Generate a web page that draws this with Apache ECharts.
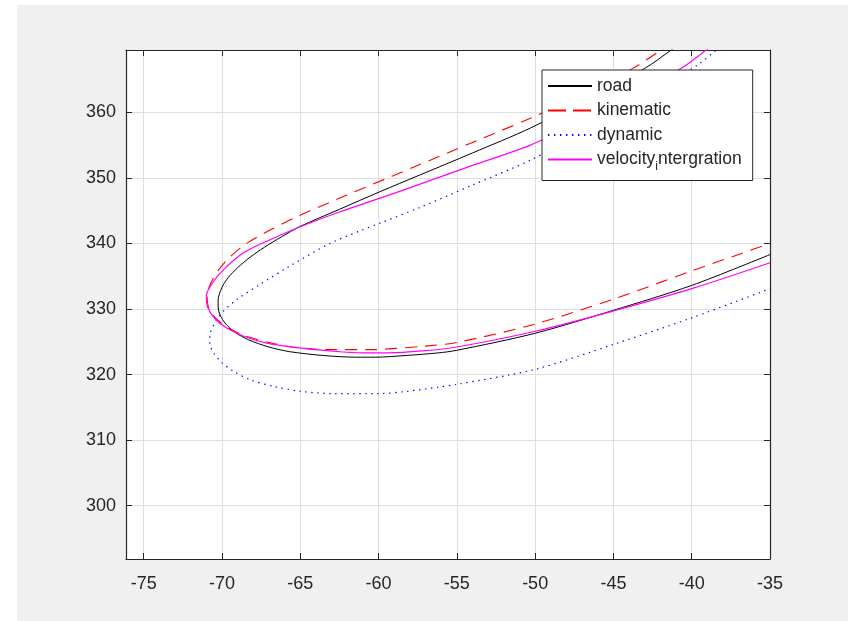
<!DOCTYPE html>
<html>
<head>
<meta charset="utf-8">
<script src="https://cdn.jsdelivr.net/npm/echarts@6/dist/echarts.min.js"></script>
<style>
  html, body { margin: 0; padding: 0; background: #ffffff; }
  #bg { position: absolute; left: 17px; top: 5px; width: 831px; height: 616px; background: #f0f0f0; }
  #chart { position: absolute; left: 0; top: 0; width: 854px; height: 621px; }
</style>
</head>
<body>
<div id="bg"></div>
<div id="chart"></div>
<script>
// ---- data ----
var seriesNames = ['road', 'kinematic', 'dynamic', 'velocity_intergration'];

var xTicks = [-75, -70, -65, -60, -55, -50, -45, -40, -35];
var yTicks = [300, 310, 320, 330, 340, 350, 360];

var road = [
  [-40.6, 370.6], [-41.3, 369.5], [-43.0, 366.7], [-47.0, 361.7], [-50.3, 357.6],
  [-54.0, 353.8], [-57.4, 350.4], [-59.9, 347.9], [-62.5, 345.2], [-65.0, 342.6],
  [-66.2, 341.0], [-67.3, 339.4], [-68.2, 337.9], [-69.0, 336.3], [-69.6, 334.8],
  [-70.0, 333.3], [-70.25, 331.3], [-70.2, 329.6], [-69.85, 328.0], [-69.2, 326.5],
  [-68.3, 325.3], [-67.0, 324.2], [-65.7, 323.5], [-63.5, 322.9], [-61.4, 322.65],
  [-60.2, 322.65], [-58.3, 322.9], [-56.2, 323.3], [-55.0, 323.7], [-50.0, 326.3],
  [-45.0, 329.8], [-40.0, 333.6], [-35.0, 338.3]
];

var kinematic = [
  [-41.2, 370.6], [-41.94, 369.5], [-43.76, 366.7], [-47.0, 362.8], [-50.3, 359.1],
  [-54.0, 355.4], [-57.7, 351.7], [-59.1, 350.3], [-62.1, 347.3], [-65.2, 344.1],
  [-66.8, 342.2], [-67.8, 340.9], [-68.6, 339.7], [-69.5, 337.9], [-70.2, 336.0],
  [-70.7, 334.0], [-70.95, 332.0], [-70.85, 330.2], [-70.4, 328.6], [-69.6, 327.1],
  [-68.4, 325.8], [-67.0, 324.9], [-65.5, 324.2], [-63.3, 323.8], [-60.3, 323.8],
  [-58.9, 324.0], [-57.2, 324.3], [-55.0, 324.9], [-50.0, 327.7], [-45.0, 331.5],
  [-40.0, 335.8], [-35.0, 340.0]
];

var dynamic = [
  [-37.9, 370.6], [-38.43, 369.5], [-39.63, 367.2], [-43.0, 362.3], [-47.0, 356.9],
  [-50.3, 352.7], [-54.0, 348.9], [-57.4, 345.45], [-59.9, 343.1], [-61.2, 341.9],
  [-63.1, 340.0], [-65.7, 336.5], [-67.6, 333.7], [-69.05, 331.45], [-69.9, 329.7],
  [-70.4, 328.1], [-70.74, 326.4], [-70.78, 324.8], [-70.53, 323.3], [-70.0, 321.8],
  [-69.26, 320.5], [-68.2, 319.2], [-66.7, 318.2], [-65.0, 317.45], [-62.9, 317.1],
  [-60.0, 317.1], [-58.3, 317.4], [-56.15, 318.1], [-55.0, 318.5], [-50.0, 320.8],
  [-45.0, 324.6], [-40.0, 328.65], [-35.0, 333.1]
];

var velocity = [
  [-38.4, 370.6], [-39.07, 369.5], [-40.67, 366.7], [-44.0, 362.5], [-47.0, 358.8],
  [-50.3, 355.0], [-54.0, 351.9], [-57.4, 349.0], [-59.9, 346.9], [-62.5, 344.8],
  [-65.0, 342.55], [-66.9, 340.6], [-68.6, 338.6], [-69.9, 336.0], [-70.6, 334.0],
  [-71.0, 332.0], [-70.9, 330.2], [-70.4, 328.4], [-69.7, 327.1], [-68.6, 325.85],
  [-67.15, 324.8], [-65.2, 324.1], [-63.1, 323.6], [-61.0, 323.3], [-59.3, 323.3],
  [-57.2, 323.6], [-55.0, 324.2], [-50.0, 326.6], [-45.0, 329.7], [-40.0, 333.1],
  [-35.0, 337.05]
];

// ---- chart ----
var FONT = 'Liberation Sans, Arial, sans-serif';
var AX = '#262626';
var xMin = -76.13, xMax = -35, yMin = 291.87, yMax = 369.5;

function makeX(pos, labels) {
  return {
    type: 'value', position: pos, min: xMin, max: xMax,
    axisLine: { show: true, onZero: false, lineStyle: { color: AX, width: 1.2 } },
    axisTick: { show: true, inside: true, length: 6, customValues: xTicks, lineStyle: { color: AX, width: 1 } },
    axisLabel: labels ? { show: true, margin: 16, color: AX, fontSize: 18, fontFamily: FONT, customValues: xTicks } : { show: false },
    splitLine: labels ? { show: true, lineStyle: { color: '#dfdfdf', width: 1 } } : { show: false }
  };
}
function makeY(pos, labels) {
  return {
    type: 'value', position: pos, min: yMin, max: yMax,
    axisLine: { show: true, onZero: false, lineStyle: { color: AX, width: 1.2 } },
    axisTick: { show: true, inside: true, length: 6, customValues: yTicks, lineStyle: { color: AX, width: 1 } },
    axisLabel: labels ? { show: true, margin: 10, color: AX, fontSize: 18, fontFamily: FONT, customValues: yTicks } : { show: false },
    splitLine: labels ? { show: true, lineStyle: { color: '#dfdfdf', width: 1 } } : { show: false }
  };
}

function lineSeries(name, data, color, type, width) {
  return {
    name: name, type: 'line', data: data, xAxisIndex: 0, yAxisIndex: 0,
    symbol: 'none', showSymbol: false, smooth: 0.3, clip: true,
    lineStyle: { color: color, width: width, type: type },
    itemStyle: { color: color },
    emphasis: { disabled: true }
  };
}

var chart = echarts.init(document.getElementById('chart'), null, { renderer: 'canvas' });
chart.setOption({
  animation: false,
  backgroundColor: 'transparent',
  grid: { left: 126, top: 50, width: 644, height: 509, show: true, backgroundColor: '#ffffff', borderWidth: 0, containLabel: false },
  xAxis: [makeX('bottom', true), makeX('top', false)],
  yAxis: [makeY('left', true), makeY('right', false)],
  legend: {
    orient: 'vertical', left: 542, top: 70,
    padding: [4, 11, 8, 5], itemGap: 0.5, itemWidth: 44, itemHeight: 14,
    backgroundColor: '#ffffff', borderColor: AX, borderWidth: 1, borderRadius: 0,
    selectedMode: false,
    itemStyle: { opacity: 0 },
    textStyle: {
      fontFamily: FONT, fontSize: 17.5, color: '#262626', lineHeight: 24,
      rich: {
        sub: { fontFamily: FONT, fontSize: 12, lineHeight: 12, verticalAlign: 'top', padding: [13, 0, 0, 0], color: '#262626' }
      }
    },
    formatter: function (name) {
      return name === 'velocity_intergration' ? 'velocity{sub|i}ntergration' : name;
    },
    data: [
      { name: seriesNames[0] },
      { name: seriesNames[1], lineStyle: { type: [18, 7] } },
      { name: seriesNames[2], lineStyle: { type: [1.4, 4.6] } },
      { name: seriesNames[3] }
    ]
  },
  series: [
    lineSeries(seriesNames[0], road, '#000000', 'solid', 1),
    lineSeries(seriesNames[1], kinematic, '#ff0000', [12, 8], 1.1),
    lineSeries(seriesNames[2], dynamic, '#0000ff', [1.4, 4.6], 1.2),
    lineSeries(seriesNames[3], velocity, '#ff00ff', 'solid', 1.2)
  ]
});
</script>
</body>
</html>
